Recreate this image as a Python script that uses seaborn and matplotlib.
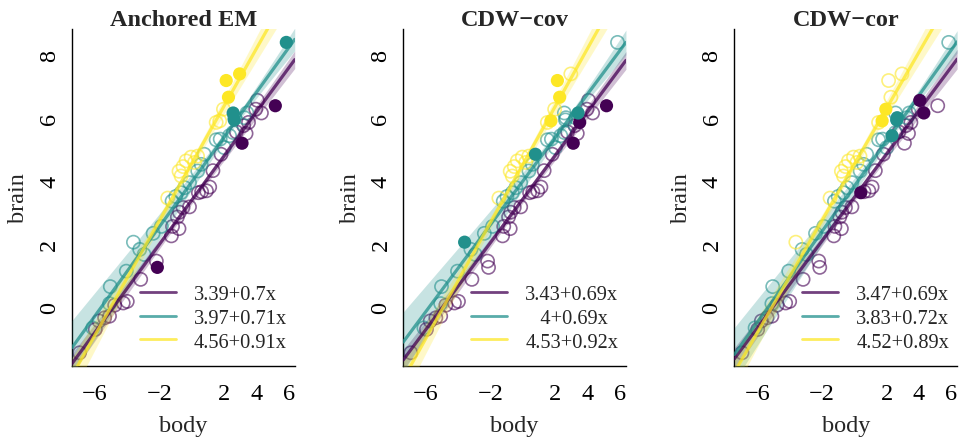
import numpy as np
import pandas as pd
import seaborn as sns
import matplotlib
matplotlib.use('Agg')
import matplotlib.pyplot as plt
from matplotlib.lines import Line2D

body = [-6.95, -5.98, -5.75, -5.40, -5.10, -4.78, -4.25, -4.00, -3.17, -2.20,
        -2.14, -1.27, -1.20, -0.80, -0.90, -0.77, -0.55, -0.15, 0.40, 0.60,
        0.90, 1.10, 1.30, 1.80, 2.75, 3.35, 3.20, 3.50, 4.05, 3.95,
        4.30, 3.10, 5.16,
        -6.14, -5.10, -5.05, -4.06, -3.62, -3.23, -2.96, -2.40, -1.89, -1.23,
        -1.00, -0.67, -0.45, -0.15, 0.36, 0.57, 0.76, 1.50, 1.75, 2.00,
        2.33, 2.55, 2.65, 3.25, 3.40, 2.55, 2.62, 5.84,
        -1.50, -0.80, -0.67, -0.36, -0.05, 0.16, -0.55, 0.35, 1.50, 1.72,
        1.95, 2.12, 2.26, 2.95]
brain = [-1.46, -0.72, -0.45, -0.35, -0.30, 0.05, 0.12, 0.17, 0.87, 1.45,
         1.25, 2.25, 2.55, 2.48, 2.85, 3.00, 3.15, 3.17, 3.62, 3.65,
         3.68, 3.80, 4.32, 4.84, 5.55, 5.50, 5.75, 5.85, 6.55, 6.27,
         6.15, 5.19, 6.38,
         -0.67, 0.10, 0.64, 1.13, 2.05, 1.82, 1.66, 2.33, 2.55, 3.35,
         3.50, 3.62, 3.78, 3.94, 4.31, 4.52, 4.84, 5.30, 5.32, 5.05,
         5.43, 5.53, 6.00, 6.00, 6.15, 6.15, 5.93, 8.39,
         3.45, 4.30, 4.15, 4.63, 4.75, 4.58, 4.45, 4.78, 5.85, 5.90,
         6.27, 7.18, 6.65, 7.39]

# cluster of each point per method (0 = purple, 1 = teal, 2 = yellow)
cluster_em = [0, 0, 0, 0, 0, 0, 0, 0, 0, 0, 0, 0, 0, 0, 0, 0, 0, 0, 0, 0,
              0, 0, 0, 0, 0, 0, 0, 0, 0, 0, 0, 0, 0,
              1, 1, 1, 1, 1, 1, 1, 1, 1, 1, 1, 1, 1, 1, 1, 1, 1, 1, 1, 1,
              1, 1, 1, 1, 1, 1, 1, 1,
              2, 2, 2, 2, 2, 2, 2, 2, 2, 2, 2, 2, 2, 2]
cluster_cov = cluster_em
cluster_cor = [0, 0, 0, 0, 0, 0, 0, 0, 0, 0, 0, 0, 0, 0, 0, 0, 0, 0, 0, 0,
               0, 0, 0, 0, 0, 0, 0, 0, 0, 0, 0, 0, 0,
               1, 1, 1, 1, 2, 1, 1, 1, 1, 1, 1, 1, 1, 1, 1, 1, 1, 1, 1, 1,
               1, 1, 1, 1, 1, 1, 1, 1,
               2, 2, 2, 2, 2, 2, 2, 2, 2, 2, 2, 2, 2, 2]

# anchored (filled) points per method
anchors_em = [10, 31, 32, 58, 59, 60, 72, 73, 74]
anchors_cov = [27, 31, 32, 37, 49, 57, 70, 72, 73]
anchors_cor = [18, 28, 30, 53, 55, 59, 70, 71]

titles = ['Anchored EM', 'CDW\u2212cov', 'CDW\u2212cor']
intercepts = [[3.39, 3.97, 4.56], [3.43, 4.00, 4.53], [3.47, 3.83, 4.52]]
slopes = [[0.70, 0.71, 0.91], [0.69, 0.69, 0.92], [0.69, 0.72, 0.89]]
legend_labels = [['3.39+0.7x', '3.97+0.71x', '4.56+0.91x'],
                 ['3.43+0.69x', '   4+0.69x', '4.53+0.92x'],
                 ['3.47+0.69x', '3.83+0.72x', '4.52+0.89x']]

# confidence band shape: half width at centre, growth, centre position
band_a = [[0.12, 0.13, 0.15], [0.12, 0.14, 0.15], [0.12, 0.13, 0.15]]
band_b = [[0.04, 0.086, 0.08], [0.04, 0.095, 0.08], [0.045, 0.085, 0.08]]
band_c = [[0.0, 2.5, -0.5], [0.0, 2.5, -0.5], [0.0, 2.5, -0.5]]

pal = ['#440154', '#21908C', '#FDE725']

sns.set_style('white')
plt.rcParams['font.family'] = ['Liberation Serif', 'DejaVu Serif']
plt.rcParams['axes.unicode_minus'] = True

fig = plt.figure(figsize=(9.6, 4.39), dpi=100)
lefts = [0.075, 0.420, 0.765]
clusters = [cluster_em, cluster_cov, cluster_cor]
anchors = [anchors_em, anchors_cov, anchors_cor]
xlim = (-7.42, 6.36)
ylim = (-1.88, 8.82)

for i in range(3):
    ax = fig.add_axes([lefts[i], 0.164, 0.232, 0.768])
    df = pd.DataFrame({'body': body, 'brain': brain, 'cluster': clusters[i]})
    df['anchor'] = df.index.isin(anchors[i])

    for k in range(3):
        sub = df[(df.cluster == k) & ~df.anchor]
        sns.scatterplot(data=sub, x='body', y='brain', ax=ax, s=90, marker='o',
                        facecolor='none', edgecolor=pal[k], linewidth=1.2,
                        alpha=0.6, zorder=2)

    xs = np.linspace(xlim[0], xlim[1], 200)
    for k in range(3):
        fit = intercepts[i][k] + slopes[i][k] * xs
        hw = np.sqrt(band_a[i][k] ** 2 + (band_b[i][k] * (xs - band_c[i][k])) ** 2)
        ax.fill_between(xs, fit - hw, fit + hw, color=pal[k], alpha=0.25,
                        linewidth=0, zorder=3)
        sns.lineplot(x=xs, y=fit, ax=ax, color=pal[k], alpha=0.75, linewidth=2.3,
                     zorder=4)

    for k in range(3):
        sub = df[(df.cluster == k) & df.anchor]
        sns.scatterplot(data=sub, x='body', y='brain', ax=ax, s=90, marker='o',
                        color=pal[k], edgecolor='none', zorder=5)

    ax.set_xlim(xlim)
    ax.set_ylim(ylim)
    for side in ['top', 'right']:
        ax.spines[side].set_visible(False)
    for side in ['left', 'bottom']:
        ax.spines[side].set_color('black')
        ax.spines[side].set_linewidth(1.0)

    ax.set_xticks([-6, -4, -2, 0, 2, 4, 6])
    ax.set_xticklabels(['\u22126', '', '\u22122', '', '2', '4', '6'])
    ax.set_yticks([0, 2, 4, 6, 8])
    ax.set_yticklabels(['0', '2', '4', '6', '8'], rotation=90, va='center')
    ax.tick_params(axis='both', direction='out', length=8.5, width=1.0,
                   labelsize=17.5, colors='black')
    ax.tick_params(axis='x', pad=4)
    ax.tick_params(axis='y', pad=0)

    ax.set_xlabel('body', fontsize=17.5, labelpad=8)
    ax.set_ylabel('brain', fontsize=17.5, labelpad=7)
    ax.set_title(titles[i], fontsize=17.5, fontweight='bold', pad=3)

    handles = [Line2D([0], [0], color=pal[k], alpha=0.75, linewidth=2.0)
               for k in range(3)]
    ax.legend(handles, legend_labels[i], loc='center left',
              bbox_to_anchor=(0.305, 0.142), frameon=False, fontsize=14.7,
              handlelength=1.75, handletextpad=0.9, labelspacing=0.22,
              borderpad=0, borderaxespad=0)

fig.savefig('out.png', dpi=100)
